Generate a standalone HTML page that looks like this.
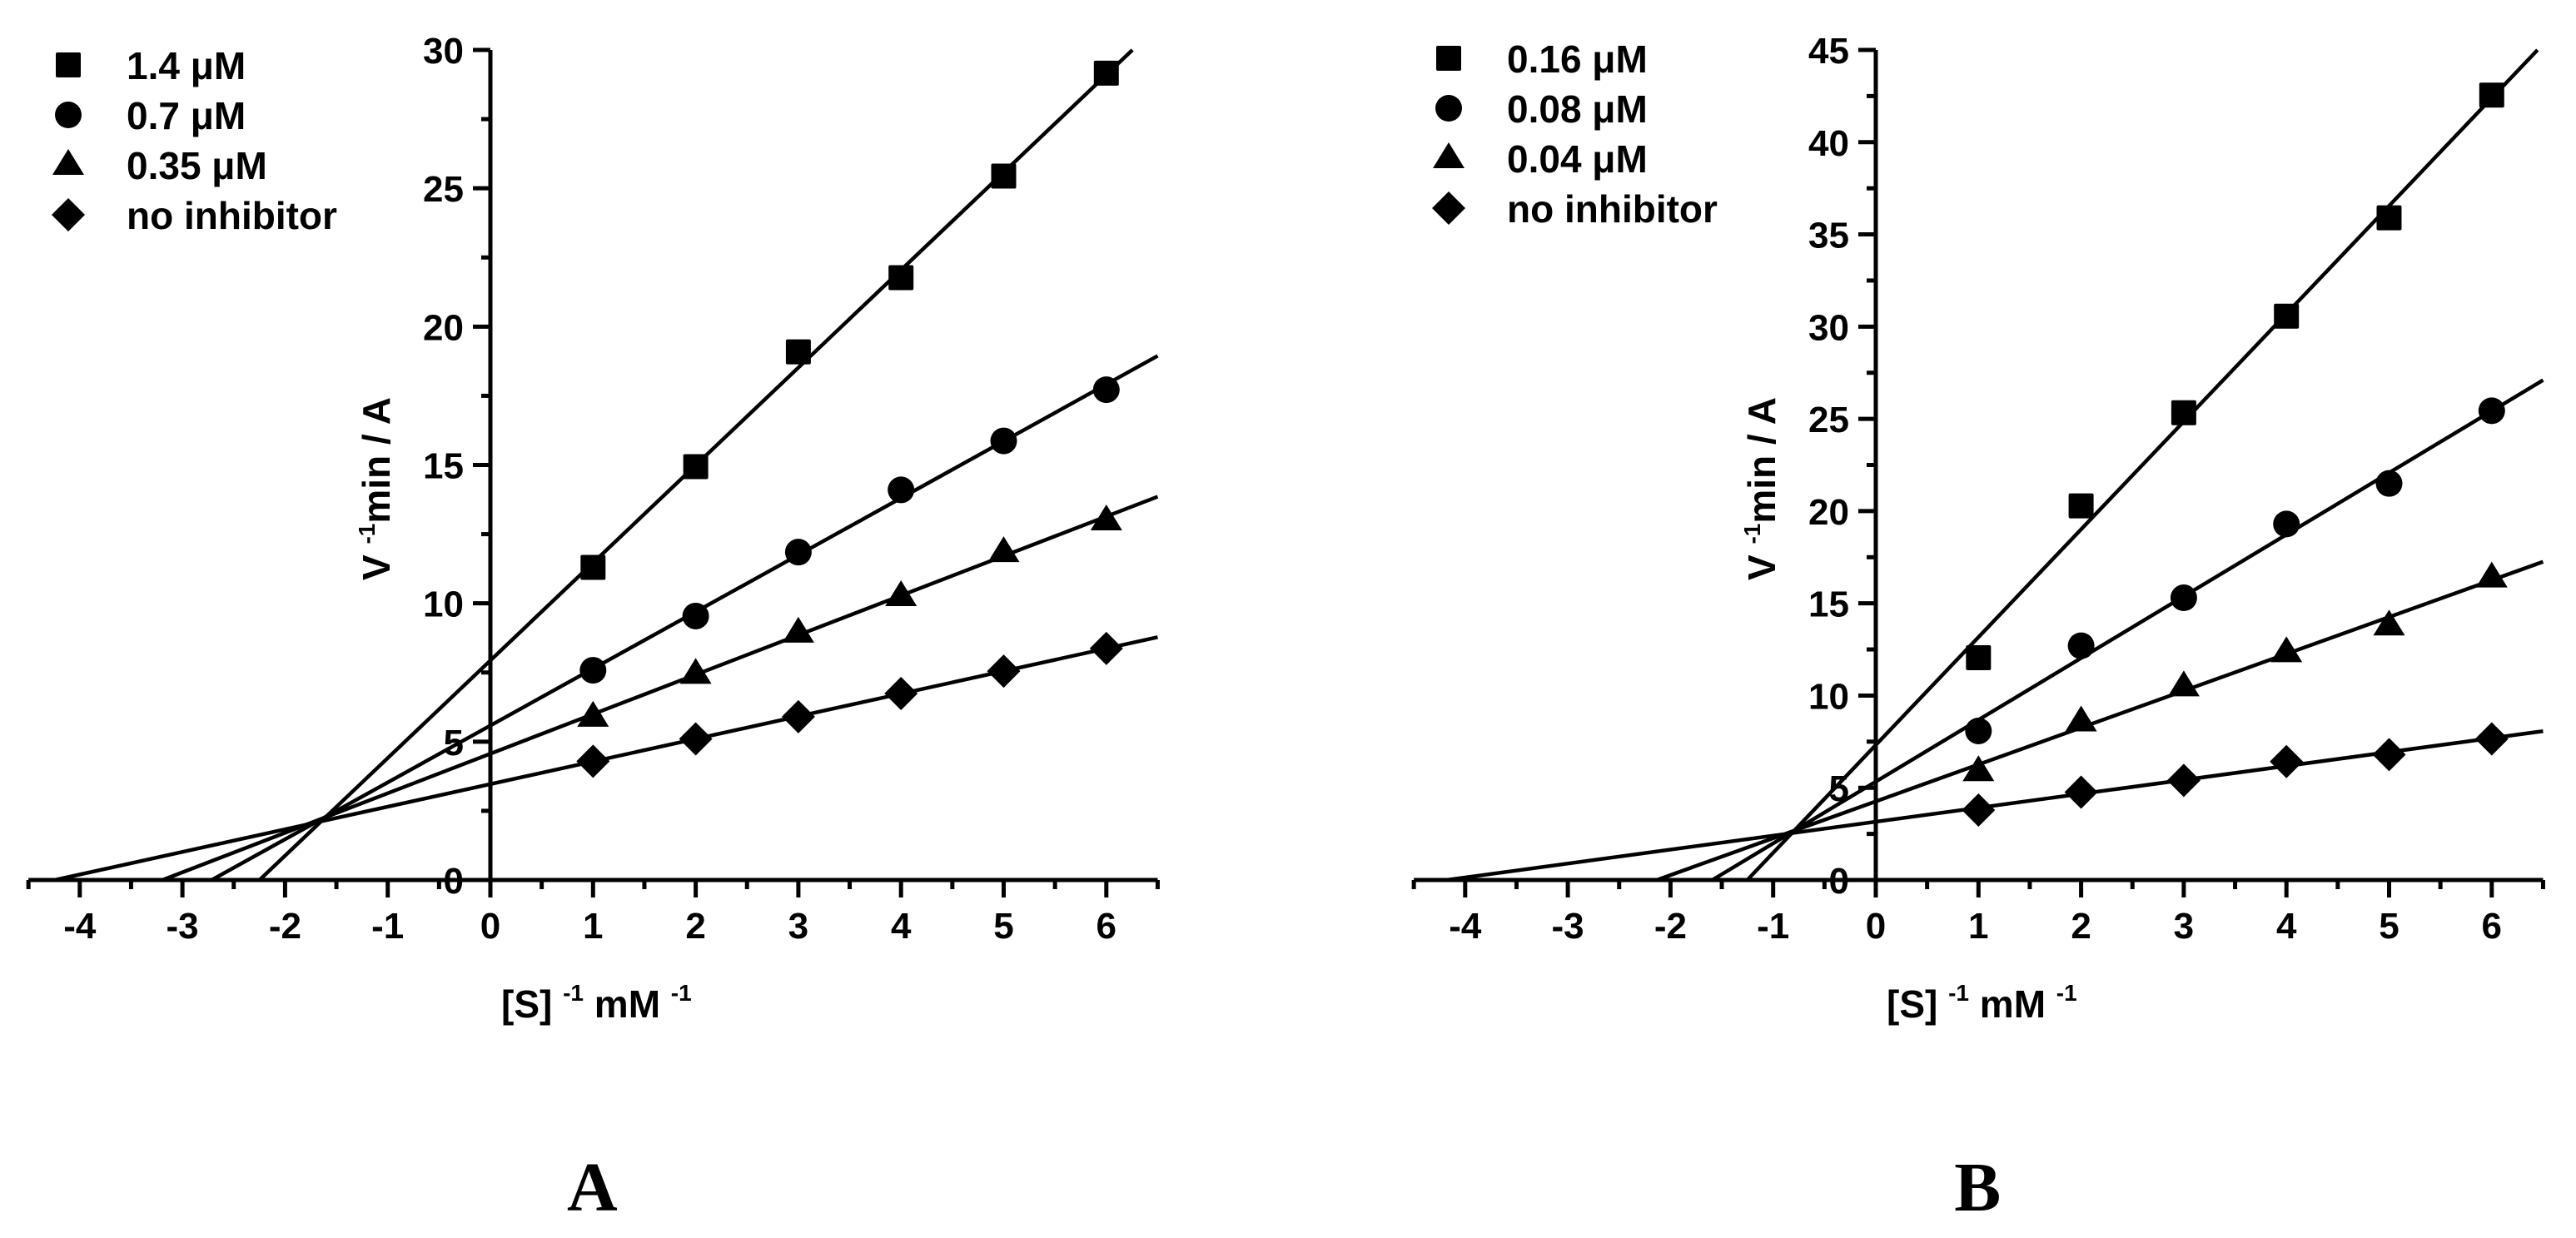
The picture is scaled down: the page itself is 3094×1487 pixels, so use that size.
<!DOCTYPE html>
<html><head><meta charset="utf-8"><title>Lineweaver-Burk plots</title>
<style>
html,body{margin:0;padding:0;background:#fff;}
svg{display:block;}
text{font-family:"Liberation Sans",Arial,sans-serif;font-weight:bold;fill:#000;}
.serif{font-family:"Liberation Serif","Times New Roman",serif;}
</style></head>
<body>
<svg id="chart" width="3094" height="1487" viewBox="0 0 3094 1487" xmlns="http://www.w3.org/2000/svg"></svg>
<script>
// ---- Data: panel A ----
const xValues = [1, 2, 3, 4, 5, 6];
const aLegend = ["1.4 μM", "0.7 μM", "0.35 μM", "no inhibitor"];
const aSquare = [11.3, 14.94, 19.09, 21.77, 25.44, 29.16];
const aCircle = [7.58, 9.54, 11.85, 14.1, 15.87, 17.72];
const aTriangle = [5.9, 7.45, 8.94, 10.26, 11.85, 13.0];
const aDiamond = [4.29, 5.1, 5.9, 6.74, 7.55, 8.37];
const aYTicks = [0, 5, 10, 15, 20, 25, 30];
// ---- Data: panel B ----
const bLegend = ["0.16 μM", "0.08 μM", "0.04 μM", "no inhibitor"];
const bSquare = [12.05, 20.28, 25.33, 30.57, 35.9, 42.55];
const bCircle = [8.08, 12.7, 15.3, 19.3, 21.5, 25.44];
const bTriangle = [5.9, 8.6, 10.5, 12.35, 13.8, 16.4];
const bDiamond = [3.79, 4.76, 5.4, 6.42, 6.8, 7.65];
const bYTicks = [0, 5, 10, 15, 20, 25, 30, 35, 40, 45];
const xTicks = [-4, -3, -2, -1, 0, 1, 2, 3, 4, 5, 6];

const NS = "http://www.w3.org/2000/svg";
const svg = document.getElementById("chart");
function mk(tag, attrs, parent) {
  const e = document.createElementNS(NS, tag);
  for (const k in attrs) e.setAttribute(k, attrs[k]);
  (parent || svg).appendChild(e);
  return e;
}
function marker(shape, cx, cy, g) {
  let e;
  if (shape === "square") e = mk("rect", {x: cx - 15, y: cy - 15, width: 30, height: 30, rx: 2}, g);
  else if (shape === "circle") e = mk("circle", {cx: cx, cy: cy, r: 16}, g);
  else if (shape === "triangle") e = mk("polygon", {points: `${cx},${cy - 19} ${cx + 19},${cy + 12} ${cx - 19},${cy + 12}`}, g);
  else e = mk("polygon", {points: `${cx},${cy - 20} ${cx + 20},${cy} ${cx},${cy + 20} ${cx - 20},${cy}`}, g);
  e.setAttribute("fill", "#000");
  return e;
}
function fit(xs, ys) {
  const n = xs.length;
  const mx = xs.reduce((a, b) => a + b, 0) / n, my = ys.reduce((a, b) => a + b, 0) / n;
  let sxy = 0, sxx = 0;
  for (let i = 0; i < n; i++) { sxy += (xs[i] - mx) * (ys[i] - my); sxx += (xs[i] - mx) ** 2; }
  const m = sxy / sxx;
  return {m: m, b: my - m * mx};
}

function panel(cfg) {
  const g = mk("g", {});
  
  
  const x0 = cfg.axisX, y0 = 1057, xMin = -4.5, xMax = 6.5, yMax = cfg.yMax;
  const px = 123.3, yTop = 60;
  const X = v => x0 + v * px;
  const Y = v => y0 - v * (y0 - yTop) / yMax;

  const xa = mk("line", {x1: X(xMin), y1: y0, x2: X(xMax), y2: y0, stroke: "#000", "stroke-width": 5}, g);
  
  
  const ya = mk("line", {x1: x0, y1: yTop, x2: x0, y2: y0 + 2, stroke: "#000", "stroke-width": 5}, g);
  
  

  for (let v = xMin; v <= xMax + 1e-9; v += 0.5) {
    const major = Math.abs(v - Math.round(v)) < 1e-9;
    mk("line", {x1: X(v), y1: y0, x2: X(v), y2: y0 + (major ? 21 : 11), stroke: "#000", "stroke-width": 5}, g);
  }
  xTicks.forEach(t => {
    const tx = mk("text", {x: X(t), y: 1127, "font-size": 44, "text-anchor": "middle"}, g);
    tx.textContent = String(t);
    
    
  });
  const step = cfg.yTicks[1] - cfg.yTicks[0];
  for (let v = 0; v <= yMax + 1e-9; v += step / 2) {
    const major = Math.abs(v / step - Math.round(v / step)) < 1e-9;
    mk("line", {x1: x0, y1: Y(v), x2: x0 - (major ? 21 : 11), y2: Y(v), stroke: "#000", "stroke-width": 5}, g);
  }
  cfg.yTicks.forEach(t => {
    const ty = mk("text", {x: x0 - 32, y: Y(t) + 16, "font-size": 44, "text-anchor": "end"}, g);
    ty.textContent = String(t);
    
    
  });

  const yt = mk("text", {x: 0, y: 0, "font-size": 46, "text-anchor": "middle", transform: `translate(${x0 - 121},${587}) rotate(-90)`}, g);
  yt.innerHTML = 'V <tspan dy="-18" font-size="28">-1</tspan><tspan dy="18">min / A</tspan>';
  
  
  const xt = mk("text", {x: x0 + 13, y: 1222, "font-size": 46}, g);
  xt.innerHTML = '[S] <tspan dy="-20" font-size="28">-1</tspan><tspan dy="20"> mM </tspan><tspan dy="-20" font-size="28">-1</tspan>';
  
  

  const shapes = ["square", "circle", "triangle", "diamond"];
  cfg.series.forEach((ys, si) => {
    const f = fit(xValues, ys);
    let xs = Math.max(xMin, -f.b / f.m);
    let xe = xMax;
    if (f.b + f.m * xe > yMax) xe = (yMax - f.b) / f.m;
    const ln = mk("line", {x1: X(xs), y1: Y(f.b + f.m * xs), x2: X(xe), y2: Y(f.b + f.m * xe), stroke: "#000", "stroke-width": 4.5}, g);
    
    
    ys.forEach((v, i) => {
      const m = marker(shapes[si], X(xValues[i]), Y(v), g);
      
      
    });
    const ly = cfg.legY + si * 60;
    const lm = marker(shapes[si], cfg.legX, ly, g);
    
    
    const lt = mk("text", {x: cfg.legX + 70, y: ly + 17, "font-size": 46}, g);
    lt.textContent = cfg.legend[si];
    
    
  });

  const pl = mk("text", {x: X(1) - 1, y: 1454, "font-size": 84, "text-anchor": "middle", class: "serif"}, g);
  pl.textContent = cfg.label;
  
  
}

panel({name: "panel-a", axisX: 589, yMax: 30, yTicks: aYTicks, series: [aSquare, aCircle, aTriangle, aDiamond], legend: aLegend, legX: 82, legY: 78, label: "A"});
panel({name: "panel-b", axisX: 2253, yMax: 45, yTicks: bYTicks, series: [bSquare, bCircle, bTriangle, bDiamond], legend: bLegend, legX: 1740, legY: 70, label: "B"});
</script>
</body></html>
